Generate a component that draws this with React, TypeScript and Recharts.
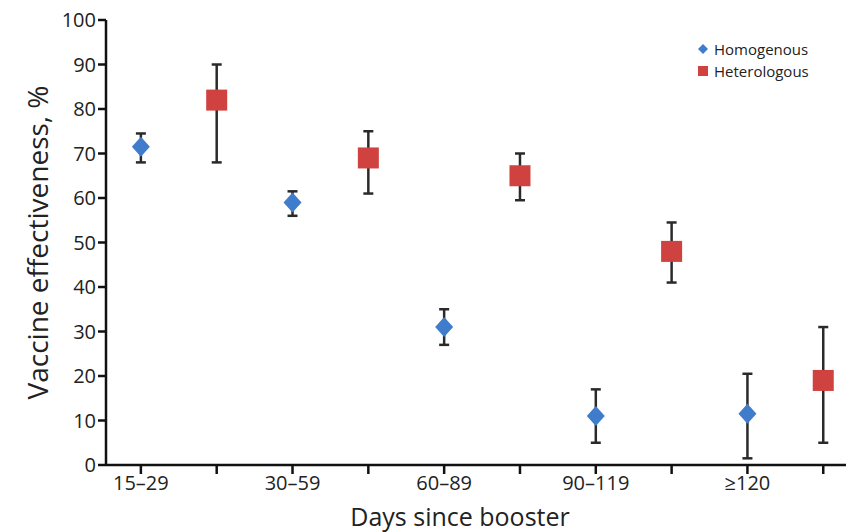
import React from 'react';
import { ScatterChart, Scatter, XAxis, YAxis, ErrorBar } from 'recharts';

const categories = ['15–29', '30–59', '60–89', '90–119', '≥120'];
const homogenousVE = [71.5, 59, 31, 11, 11.5];
const homogenousLow = [68, 56, 27, 5, 1.5];
const homogenousHigh = [74.5, 61.5, 35, 17, 20.5];
const heterologousVE = [82, 69, 65, 48, 19];
const heterologousLow = [68, 61, 59.5, 41, 5];
const heterologousHigh = [90, 75, 70, 54.5, 31];
const yTicks = [0, 10, 20, 30, 40, 50, 60, 70, 80, 90, 100];
const xTicks = [0, 1, 2, 3, 4, 5, 6, 7, 8, 9];
const seriesNames = ['Homogenous', 'Heterologous'];

const BLUE = '#3f7dcc';
const RED = '#cf4240';
const FONT = '"Open Sans", Lato, sans-serif';

const homData = categories.map((c, i) => ({
  x: i * 2,
  y: homogenousVE[i],
  err: [homogenousVE[i] - homogenousLow[i], homogenousHigh[i] - homogenousVE[i]],
}));
const hetData = categories.map((c, i) => ({
  x: i * 2 + 1,
  y: heterologousVE[i],
  err: [heterologousVE[i] - heterologousLow[i], heterologousHigh[i] - heterologousVE[i]],
}));

const Diamond = (props: any) => {
  const { cx, cy } = props;
  if (cx == null || cy == null) return null;
  return <path d={`M${cx},${cy - 10}L${cx + 9},${cy}L${cx},${cy + 10}L${cx - 9},${cy}Z`} fill={BLUE} />;
};
const Square = (props: any) => {
  const { cx, cy } = props;
  if (cx == null || cy == null) return null;
  return <rect x={cx - 10.5} y={cy - 10.5} width={21} height={21} fill={RED} />;
};
const Nothing = () => <g />;

const LegendBox = () => (
  <div
    style={{
      position: 'absolute',
      left: 697,
      top: 38,
      fontFamily: FONT,
      fontSize: 15,
      color: '#222',
      lineHeight: '22px',
    }}
  >
    <div style={{ display: 'flex', alignItems: 'center' }}>
      <svg width={12} height={12} style={{ marginRight: 5 }}>
        <path d="M6,1L11,6L6,11L1,6Z" fill={BLUE} />
      </svg>
      {seriesNames[0]}
    </div>
    <div style={{ display: 'flex', alignItems: 'center' }}>
      <svg width={12} height={12} style={{ marginRight: 5 }}>
        <rect x={1} y={1} width={10} height={10} fill={RED} />
      </svg>
      {seriesNames[1]}
    </div>
  </div>
);

const XLabel = (props: any) => {
  const vb = props.viewBox || {};
  return (
    <text x={vb.x + vb.width / 2 - 16} y={526} textAnchor="middle" fontSize={25} fontFamily={FONT} fill="#222">
      Days since booster
    </text>
  );
};
const YLabel = (props: any) => {
  const vb = props.viewBox || {};
  const cy = vb.y + vb.height / 2;
  return (
    <text x={37} y={cy} textAnchor="middle" dominantBaseline="central" transform={`rotate(-90, 37, ${cy})`} fontSize={28} fontFamily={FONT} fill="#222">
      Vaccine effectiveness, %
    </text>
  );
};

export default function App() {
  return (
    <div style={{ position: 'absolute', left: 0, top: 0, width: 846, height: 532, background: '#fff' }}>
      <ScatterChart width={846} height={532} margin={{ top: 20, right: 0, bottom: 0, left: 0 }}>
        <XAxis
          type="number"
          dataKey="x"
          domain={[-0.46, 9.3]}
          ticks={xTicks}
          interval={0}
          allowDataOverflow
          tickFormatter={(v: number) => (v % 2 === 0 ? categories[v / 2] : '')}
          height={67}
          tickSize={9}
          axisLine={{ stroke: '#111', strokeWidth: 2.5 }}
          tickLine={{ stroke: '#111', strokeWidth: 2.5 }}
          tick={{ fill: '#222', fontSize: 20, fontFamily: FONT }}
          label={<XLabel />}
        />
        <YAxis
          type="number"
          dataKey="y"
          domain={[0, 100]}
          ticks={yTicks}
          interval={0}
          width={106}
          tickSize={8}
          axisLine={{ stroke: '#111', strokeWidth: 2.5 }}
          tickLine={{ stroke: '#111', strokeWidth: 2.5 }}
          tick={{ fill: '#222', fontSize: 20, fontFamily: FONT }}
          label={<YLabel />}
        />
        <Scatter name="Homogenous err" data={homData} shape={<Nothing />} isAnimationActive={false} legendType="none">
          <ErrorBar dataKey="err" direction="y" width={5} stroke="#2a2a2a" strokeWidth={2.5} />
        </Scatter>
        <Scatter name="Heterologous err" data={hetData} shape={<Nothing />} isAnimationActive={false} legendType="none">
          <ErrorBar dataKey="err" direction="y" width={5} stroke="#2a2a2a" strokeWidth={2.5} />
        </Scatter>
        <Scatter name={seriesNames[0]} data={homData} shape={<Diamond />} isAnimationActive={false} />
        <Scatter name={seriesNames[1]} data={hetData} shape={<Square />} isAnimationActive={false} />
      </ScatterChart>
      <LegendBox />
    </div>
  );
}
